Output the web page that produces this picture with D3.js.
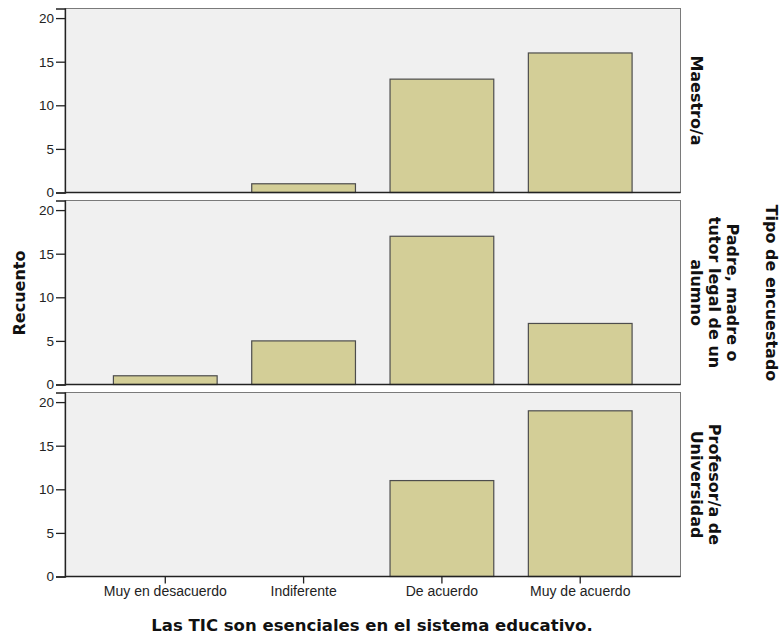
<!DOCTYPE html>
<html>
<head>
<meta charset="utf-8">
<script src="https://cdn.jsdelivr.net/npm/d3@7"></script>
<style>
  html, body { margin: 0; padding: 0; background: #ffffff; }
  svg { display: block; }
</style>
</head>
<body>
<div id="chart"></div>
<script>
// ---- data ----
const categories = ["Muy en desacuerdo", "Indiferente", "De acuerdo", "Muy de acuerdo"];
const panels = ["Maestro/a", "Padre, madre o tutor legal de un alumno", "Profesor/a de Universidad"];
const panelLabelLines = [["Maestro/a"], ["Padre, madre o", "tutor legal de un", "alumno"], ["Profesor/a de", "Universidad"]];
const valuesMaestro = [0, 1, 13, 16];
const valuesPadre = [1, 5, 17, 7];
const valuesProfesor = [0, 0, 11, 19];
const yTicks = [0, 5, 10, 15, 20];
const xTitle = "Las TIC son esenciales en el sistema educativo.";
const yTitle = "Recuento";
const facetTitle = "Tipo de encuestado";

const seriesValues = [valuesMaestro, valuesPadre, valuesProfesor];

// ---- layout ----
const W = 781, H = 635;
const left = 65, right = 680.5;
const panelTop0 = 8.5, panelStep = 192, panelH = 184;
const yMax = 21.1;

const svg = d3.select("#chart").append("svg").attr("width", W).attr("height", H);

const x = d3.scaleBand().domain(categories).range([left, right])
  .paddingInner(0.25).paddingOuter(0.35);

const tickFont = "'Liberation Sans', Arial, sans-serif";
const boldFont = "'DejaVu Sans', Verdana, sans-serif";

panels.forEach((p, i) => {
  const top = panelTop0 + i * panelStep;
  const bottom = top + panelH;
  const y = d3.scaleLinear().domain([0, yMax]).range([bottom, top]);
  const g = svg.append("g");

  // panel background + frame
  g.append("rect")
    .attr("x", left).attr("y", top)
    .attr("width", right - left).attr("height", panelH)
    .attr("fill", "#f0f0f0")
    .attr("stroke", "#7a7a7a").attr("stroke-width", 1);

  // bars
  const data = categories.map((c, j) => ({ c, v: seriesValues[i][j] })).filter(d => d.v > 0);
  g.selectAll("rect.bar").data(data).enter().append("rect")
    .attr("class", "bar")
    .attr("x", d => x(d.c))
    .attr("y", d => y(d.v))
    .attr("width", x.bandwidth())
    .attr("height", d => y(0) - y(d.v))
    .attr("fill", "#d3ce97")
    .attr("stroke", "#4d4d4d").attr("stroke-width", 1.2);

  // y axis
  const ya = g.append("g").attr("transform", `translate(${left},0)`)
    .call(d3.axisLeft(y).tickValues(yTicks).tickSize(9).tickPadding(2).tickFormat(d3.format("d")));
  ya.select(".domain").attr("stroke", "#222").attr("stroke-width", 1.3);
  ya.selectAll(".tick line").attr("stroke", "#222").attr("stroke-width", 1.3);
  ya.selectAll(".tick text").attr("font-family", tickFont).attr("font-size", 13.5).attr("fill", "#222");

  // bottom line
  g.append("line").attr("x1", left).attr("x2", right).attr("y1", bottom).attr("y2", bottom)
    .attr("stroke", "#222").attr("stroke-width", 1.5);

  // x axis only on last panel
  if (i === panels.length - 1) {
    const xa = g.append("g").attr("transform", `translate(0,${bottom})`)
      .call(d3.axisBottom(x).tickSize(7).tickPadding(3));
    xa.select(".domain").remove();
    xa.selectAll(".tick line").attr("stroke", "#222").attr("stroke-width", 1.3);
    xa.selectAll(".tick text").attr("font-family", tickFont).attr("font-size", 14).attr("fill", "#222");
  }

  // strip label (rotated 90)
  const lines = panelLabelLines[i];
  const lh = 18;
  const cy = (top + bottom) / 2;
  lines.forEach((ln, k) => {
    const bx = 691 + (lines.length - 1 - k) * lh;
    svg.append("text")
      .attr("transform", `translate(${bx},${cy}) rotate(90)`)
      .attr("text-anchor", "middle")
      .attr("font-family", boldFont).attr("font-weight", "bold").attr("font-size", 16)
      .attr("fill", "#111")
      .text(ln);
  });
});

// y title
svg.append("text")
  .attr("transform", `translate(25,293) rotate(-90)`)
  .attr("text-anchor", "middle")
  .attr("font-family", boldFont).attr("font-weight", "bold").attr("font-size", 16)
  .attr("fill", "#111")
  .text(yTitle);

// x title
svg.append("text")
  .attr("x", 372).attr("y", 631)
  .attr("text-anchor", "middle")
  .attr("font-family", boldFont).attr("font-weight", "bold").attr("font-size", 16.5)
  .attr("fill", "#111")
  .text(xTitle);

// facet title
svg.append("text")
  .attr("transform", `translate(766,293) rotate(90)`)
  .attr("text-anchor", "middle")
  .attr("font-family", boldFont).attr("font-weight", "bold").attr("font-size", 16)
  .attr("fill", "#111")
  .text(facetTitle);
</script>
</body>
</html>
